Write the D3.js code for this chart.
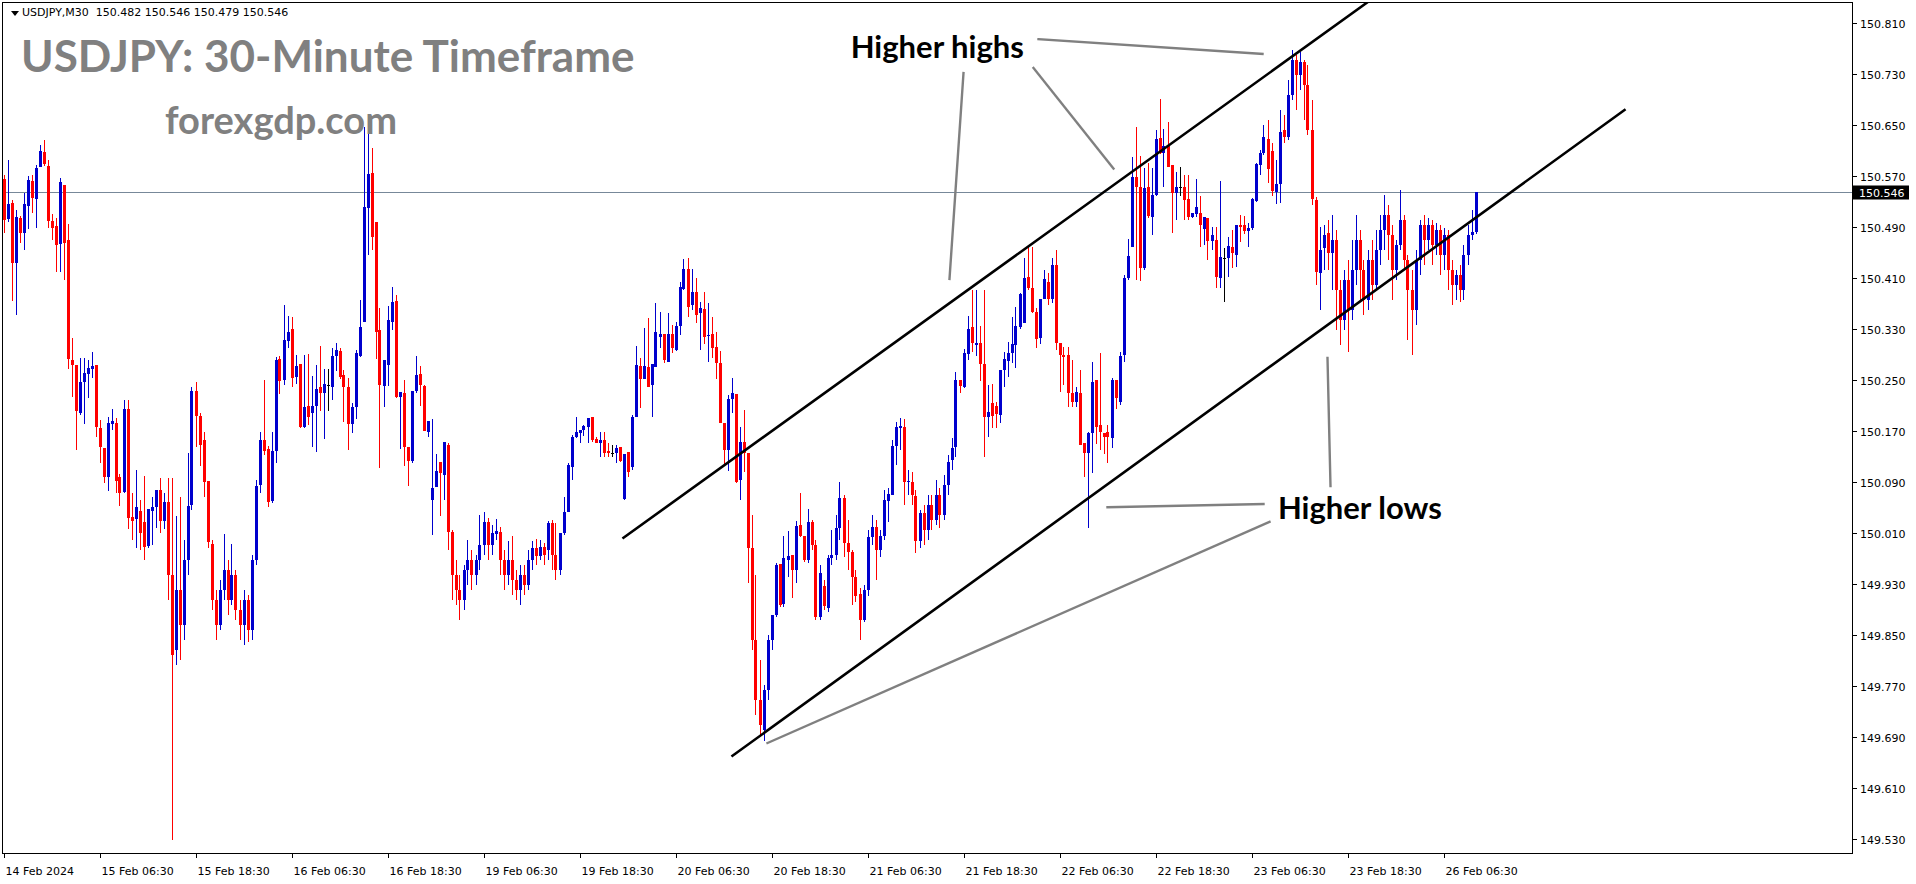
<!DOCTYPE html>
<html><head><meta charset="utf-8">
<script src="https://cdn.jsdelivr.net/npm/d3@7"></script>
<style>html,body{margin:0;padding:0;background:#fff;overflow:hidden}</style>
</head><body><svg id="c" width="1916" height="884"></svg>
<script>
// ---------- DATA ----------
const symbolHeader = "USDJPY,M30  150.482 150.546 150.479 150.546";
const titleText = "USDJPY: 30-Minute Timeframe";
const siteText = "forexgdp.com";
const lastPrice = 150.546;

const openP = [150.566,150.503,150.528,150.434,150.505,150.481,150.523,150.563,150.535,150.585,
150.608,150.586,150.500,150.492,150.464,150.557,150.470,150.282,150.274,150.199,
150.247,150.260,150.268,150.274,150.175,150.144,150.098,150.182,150.183,150.098,
150.075,150.205,150.036,150.033,150.045,150.028,149.990,150.045,150.051,150.078,
150.030,150.059,149.945,149.827,149.921,149.866,149.968,150.054,150.234,150.194,
150.157,150.092,149.993,149.905,149.866,149.921,149.953,149.905,149.945,149.890,
149.866,149.905,149.858,149.968,150.086,150.157,150.142,150.061,150.139,150.284,
150.251,150.312,150.331,150.255,150.276,150.177,150.210,150.199,150.210,150.240,
150.230,150.243,150.240,150.288,150.296,150.258,150.240,150.182,150.208,150.288,
150.342,150.520,150.575,150.498,150.329,150.241,150.274,150.342,150.374,150.224,
150.230,150.145,150.123,150.234,150.260,150.241,150.169,150.062,150.083,150.122,
150.102,150.149,150.012,149.945,149.921,149.905,149.953,149.968,149.945,149.968,
149.992,150.028,149.992,150.009,150.012,149.968,149.945,149.968,149.937,149.921,
149.945,149.929,149.968,149.987,149.974,149.988,149.984,150.026,149.976,149.953,
150.011,150.044,150.114,150.161,150.167,150.172,150.177,150.193,150.158,150.152,
150.156,150.139,150.136,150.136,150.145,150.064,150.138,150.114,150.193,150.273,
150.252,150.271,150.243,150.271,150.318,150.323,150.279,150.323,150.298,150.335,
150.393,150.425,150.368,150.389,150.356,150.362,150.320,150.323,150.302,150.277,
150.183,150.141,150.221,150.229,150.094,150.153,150.136,149.987,149.843,149.749,
149.702,149.764,149.843,149.882,149.962,149.899,149.968,149.976,149.953,150.023,
150.006,149.968,150.028,149.992,149.879,149.927,149.893,149.971,149.976,150.018,
150.065,149.995,149.981,149.941,149.915,149.874,149.921,150.004,150.020,149.984,
150.006,150.061,150.070,150.147,150.175,150.177,150.091,150.091,150.069,149.998,
150.042,150.015,150.055,150.031,150.070,150.039,150.086,150.125,150.145,150.251,
150.240,150.291,150.334,150.305,150.309,150.276,150.193,150.214,150.210,150.196,
150.266,150.280,150.293,150.305,150.334,150.340,150.412,150.395,150.357,150.317,
150.378,150.404,150.378,150.431,150.309,150.290,150.290,150.230,150.216,150.230,
150.152,150.136,150.167,150.251,150.180,150.167,150.169,150.160,150.251,150.216,
150.290,150.411,150.459,150.569,150.553,150.426,150.553,150.506,150.541,150.630,
150.607,150.618,150.588,150.544,150.553,150.553,150.535,150.506,150.511,150.513,
150.488,150.505,150.469,150.470,150.411,150.442,150.442,150.459,150.447,150.494,
150.494,150.484,150.489,150.531,150.588,150.607,150.629,150.610,150.545,150.558,
150.643,150.632,150.698,150.753,150.729,150.749,150.713,150.643,150.533,150.419,
150.458,150.481,150.450,150.470,150.392,150.345,150.407,150.360,150.423,150.470,
150.423,150.376,150.439,150.400,150.455,150.486,150.509,150.478,150.423,150.462,
150.502,150.439,150.392,150.360,150.439,150.494,150.470,150.494,150.462,150.486,
150.447,150.478,150.423,150.400,150.415,150.392,150.447,150.478,150.482];

const highP = [150.572,150.596,150.533,150.517,150.508,150.544,150.571,150.572,150.588,150.619,
150.627,150.596,150.511,150.505,150.567,150.557,150.495,150.317,150.274,150.285,
150.285,150.282,150.295,150.274,150.188,150.144,150.193,150.205,150.191,150.103,
150.219,150.219,150.073,150.109,150.062,150.100,150.048,150.067,150.078,150.097,
150.073,150.097,150.097,150.037,150.067,149.999,150.136,150.240,150.248,150.199,
150.169,150.092,149.999,149.921,149.937,150.009,149.968,149.993,149.953,149.905,
149.921,149.913,149.976,150.094,150.169,150.251,150.147,150.169,150.287,150.288,
150.368,150.351,150.349,150.290,150.276,150.290,150.291,150.257,150.274,150.304,
150.268,150.268,150.301,150.309,150.301,150.266,150.254,150.214,150.298,150.376,
150.647,150.640,150.614,150.498,150.363,150.282,150.367,150.396,150.384,150.232,
150.251,150.145,150.234,150.288,150.272,150.243,150.186,150.189,150.135,150.122,
150.153,150.152,150.015,149.968,149.945,149.960,149.999,149.984,149.976,150.039,
150.044,150.034,150.023,150.033,150.020,149.984,149.998,150.006,149.953,149.960,
149.960,149.984,149.998,150.001,149.999,149.995,150.030,150.031,150.026,150.011,
150.067,150.120,150.164,150.193,150.172,150.180,150.191,150.193,150.161,150.169,
150.169,150.152,150.149,150.149,150.145,150.134,150.138,150.196,150.304,150.285,
150.332,150.348,150.276,150.371,150.357,150.323,150.356,150.337,150.342,150.404,
150.440,150.442,150.425,150.411,150.373,150.389,150.371,150.349,150.326,150.296,
150.183,150.227,150.254,150.229,150.177,150.204,150.136,150.039,149.945,149.811,
149.772,149.851,149.882,149.963,149.962,150.006,150.014,149.976,150.030,150.073,
150.006,150.048,150.031,149.999,149.960,149.937,149.976,150.015,150.039,150.091,
150.070,150.031,149.984,149.953,149.924,149.929,150.015,150.039,150.031,150.015,
150.078,150.081,150.157,150.185,150.191,150.189,150.109,150.106,150.078,150.047,
150.055,150.070,150.070,150.094,150.081,150.102,150.133,150.160,150.263,150.251,
150.299,150.351,150.392,150.392,150.335,150.392,150.243,150.244,150.216,150.266,
150.295,150.310,150.349,150.365,150.387,150.442,150.459,150.459,150.364,150.378,
150.423,150.418,150.442,150.455,150.309,150.302,150.302,150.282,150.240,150.266,
150.152,150.169,150.279,150.251,150.293,150.167,150.180,150.254,150.251,150.295,
150.415,150.472,150.600,150.647,150.602,150.583,150.591,150.583,150.643,150.691,
150.644,150.655,150.588,150.577,150.585,150.572,150.572,150.513,150.566,150.539,
150.505,150.505,150.491,150.491,150.563,150.458,150.475,150.486,150.494,150.509,
150.508,150.497,150.536,150.591,150.611,150.651,150.658,150.622,150.596,150.674,
150.666,150.721,150.768,150.760,150.765,150.753,150.745,150.690,150.538,150.491,
150.494,150.502,150.509,150.486,150.407,150.423,150.439,150.470,150.509,150.486,
150.439,150.455,150.470,150.486,150.509,150.541,150.525,150.494,150.470,150.549,
150.509,150.447,150.423,150.455,150.502,150.509,150.505,150.502,150.497,150.494,
150.489,150.486,150.439,150.423,150.431,150.462,150.494,150.517,150.546];

const lowP = [150.481,150.498,150.374,150.352,150.466,150.455,150.488,150.513,150.489,150.585,
150.586,150.489,150.470,150.420,150.420,150.407,150.268,150.224,150.141,150.196,
150.182,150.222,150.254,150.161,150.120,150.089,150.076,150.172,150.073,150.053,
150.073,150.017,149.999,149.987,149.984,149.968,149.987,149.992,150.019,150.011,
150.017,149.905,149.529,149.803,149.811,149.843,149.945,150.047,150.146,150.116,
150.067,149.987,149.890,149.843,149.858,149.905,149.882,149.898,149.874,149.843,
149.835,149.840,149.843,149.960,150.073,150.133,150.051,150.058,150.120,150.229,
150.243,150.301,150.240,150.244,150.175,150.175,150.180,150.145,150.138,150.202,
150.158,150.202,150.219,150.265,150.252,150.185,150.141,150.167,150.189,150.287,
150.342,150.447,150.455,150.284,150.112,150.208,150.241,150.329,150.222,150.142,
150.116,150.084,150.120,150.230,150.210,150.171,150.161,150.007,150.083,150.037,
150.062,149.984,149.905,149.898,149.874,149.890,149.929,149.921,149.929,149.953,
149.976,149.968,149.976,149.999,149.945,149.921,149.929,149.913,149.905,149.898,
149.913,149.921,149.953,149.960,149.968,149.960,149.968,149.953,149.937,149.945,
150.007,150.044,150.094,150.160,150.152,150.163,150.152,150.153,150.152,150.130,
150.130,150.130,150.130,150.120,150.122,150.062,150.098,150.109,150.193,150.207,
150.252,150.240,150.193,150.271,150.301,150.277,150.279,150.293,150.296,150.321,
150.392,150.349,150.360,150.340,150.298,150.307,150.279,150.285,150.252,150.183,
150.117,150.108,150.199,150.089,150.062,150.106,149.932,149.827,149.725,149.694,
149.684,149.749,149.827,149.879,149.894,149.894,149.941,149.909,149.932,150.004,
149.965,149.963,149.984,149.874,149.874,149.890,149.887,149.960,149.968,149.999,
149.973,149.953,149.898,149.902,149.843,149.871,149.912,149.992,149.937,149.973,
149.999,150.028,150.070,150.117,150.141,150.055,150.070,150.055,149.979,149.987,
149.992,149.999,150.015,150.023,150.019,150.031,150.070,150.109,150.130,150.230,
150.238,150.282,150.295,150.288,150.249,150.130,150.161,150.175,150.175,150.183,
150.240,150.255,150.277,150.269,150.331,150.340,150.392,150.356,150.301,150.307,
150.378,150.368,150.371,150.298,150.232,150.243,150.208,150.208,150.208,150.149,
150.098,150.018,150.105,150.150,150.140,150.135,150.120,150.144,150.205,150.211,
150.279,150.407,150.459,150.407,150.406,150.423,150.505,150.478,150.539,150.605,
150.553,150.585,150.481,150.502,150.539,150.502,150.502,150.505,150.506,150.459,
150.462,150.439,150.455,150.395,150.395,150.373,150.412,150.426,150.428,150.467,
150.480,150.459,150.486,150.530,150.572,150.604,150.560,150.539,150.527,150.528,
150.622,150.627,150.690,150.674,150.706,150.658,150.635,150.525,150.400,150.360,
150.423,150.423,150.392,150.329,150.305,150.329,150.295,150.345,150.400,150.376,
150.352,150.360,150.376,150.392,150.431,150.455,150.439,150.376,150.407,150.455,
150.423,150.313,150.290,150.337,150.415,150.431,150.455,150.431,150.447,150.415,
150.423,150.392,150.368,150.376,150.373,150.376,150.431,150.470,150.479];

const closeP = [150.502,150.527,150.434,150.506,150.481,150.527,150.564,150.536,150.583,150.610,
150.589,150.500,150.489,150.462,150.561,150.466,150.284,150.274,150.202,150.247,
150.261,150.269,150.272,150.177,150.145,150.098,150.183,150.186,150.092,150.073,
150.205,150.034,150.030,150.051,150.011,149.988,150.048,150.051,150.078,150.030,
150.059,149.945,149.819,149.921,149.866,149.968,150.053,150.234,150.194,150.149,
150.091,149.996,149.905,149.866,149.921,149.953,149.905,149.945,149.890,149.866,
149.905,149.858,149.968,150.084,150.157,150.139,150.059,150.139,150.282,150.249,
150.313,150.326,150.254,150.272,150.177,150.208,150.193,150.210,150.237,150.230,
150.244,150.243,150.288,150.298,150.255,150.240,150.182,150.208,150.293,150.334,
150.522,150.574,150.475,150.326,150.243,150.282,150.345,150.373,150.224,150.232,
150.145,150.123,150.234,150.258,150.243,150.171,150.186,150.081,150.108,150.105,
150.153,150.012,149.945,149.921,149.905,149.953,149.968,149.945,149.968,149.992,
150.028,149.992,150.011,150.014,149.968,149.945,149.968,149.937,149.921,149.945,
149.929,149.968,149.987,149.974,149.988,149.976,150.026,149.976,149.953,150.011,
150.044,150.117,150.161,150.169,150.172,150.178,150.191,150.156,150.152,150.156,
150.136,150.136,150.136,150.144,150.123,150.134,150.106,150.193,150.274,150.252,
150.273,150.240,150.276,150.326,150.323,150.282,150.323,150.301,150.335,150.396,
150.425,150.365,150.389,150.352,150.364,150.318,150.321,150.301,150.277,150.183,
150.141,150.221,150.230,150.091,150.153,150.136,149.987,149.843,149.749,149.709,
149.764,149.843,149.882,149.960,149.898,149.971,149.974,149.953,150.022,150.006,
149.968,150.028,149.992,149.879,149.948,149.896,149.971,149.976,150.018,150.065,
149.995,149.981,149.941,149.912,149.874,149.921,150.004,150.020,149.984,150.006,
150.062,150.072,150.147,150.177,150.178,150.091,150.092,150.070,149.998,150.042,
150.015,150.055,150.031,150.070,150.039,150.086,150.122,150.144,150.251,150.241,
150.293,150.331,150.309,150.309,150.276,150.193,150.200,150.194,150.197,150.266,
150.284,150.293,150.307,150.335,150.385,150.411,150.395,150.357,150.315,150.378,
150.409,150.378,150.431,150.309,150.290,150.287,150.230,150.216,150.232,150.149,
150.136,150.167,150.247,150.177,150.169,150.161,150.161,150.251,150.222,150.288,
150.411,150.445,150.569,150.553,150.426,150.552,150.508,150.541,150.629,150.607,
150.618,150.585,150.544,150.553,150.553,150.533,150.506,150.513,150.522,150.494,
150.506,150.469,150.478,150.412,150.444,150.442,150.461,150.450,150.494,150.491,
150.484,150.489,150.535,150.589,150.607,150.632,150.582,150.547,150.558,150.640,
150.632,150.698,150.753,150.729,150.749,150.713,150.643,150.535,150.420,150.455,
150.478,150.450,150.470,150.392,150.345,150.407,150.360,150.423,150.470,150.423,
150.376,150.439,150.400,150.455,150.486,150.509,150.478,150.423,150.462,150.502,
150.439,150.392,150.360,150.439,150.494,150.470,150.494,150.462,150.486,150.447,
150.478,150.423,150.400,150.415,150.392,150.447,150.478,150.482,150.546];

const timeLabels = ["14 Feb 2024","15 Feb 06:30","15 Feb 18:30","16 Feb 06:30","16 Feb 18:30",
"19 Feb 06:30","19 Feb 18:30","20 Feb 06:30","20 Feb 18:30","21 Feb 06:30","21 Feb 18:30",
"22 Feb 06:30","22 Feb 18:30","23 Feb 06:30","23 Feb 18:30","26 Feb 06:30"];
const timeLabelBar = [0,24,48,72,96,120,144,168,192,216,240,264,288,312,336,360];
const priceTicks = [150.810,150.730,150.650,150.570,150.490,150.410,150.330,150.250,150.170,
150.090,150.010,149.930,149.850,149.770,149.690,149.610,149.530];

// trend / annotation lines as [bar index, price]
const upperChannel = [[155, 150.003], [341, 150.843]];
const lowerChannel = [[182.25, 149.661], [405.25, 150.674]];
const highsPointerA = [[240, 150.732], [236.5, 150.409]];
const highsPointerB = [[257.5, 150.740], [277.5, 150.582]];
const highsPointerC = [[258.75, 150.785], [314.75, 150.762]];
const lowsPointerA = [[331, 150.285], [331.75, 150.084]];
const lowsPointerB = [[276, 150.051], [315, 150.056]];
const lowsPointerC = [[191, 149.681], [316.5, 150.028]];
const higherHighsLabel = {text: "Higher highs", bar: 211.8, price: 150.755};
const higherLowsLabel = {text: "Higher lows", bar: 318.6, price: 150.032};

// ---------- CHART ----------
const svg = d3.select("#c");
const P = {l: 2, t: 2, r: 1852, b: 853};

const x = d3.scaleLinear().domain([0, 100]).range([3.5, 403.5]);
const y = d3.scaleLinear().domain([149.530, 150.810]).range([839.3, 23.3]);

svg.append("defs").append("clipPath").attr("id", "pc")
  .append("rect").attr("x", P.l).attr("y", P.t).attr("width", P.r - P.l).attr("height", P.b - P.t);

const g = svg.append("g").attr("clip-path", "url(#pc)");

// current price line
g.append("line").attr("x1", P.l).attr("x2", P.r)
  .attr("y1", Math.round(y(lastPrice)) + 0.5).attr("y2", Math.round(y(lastPrice)) + 0.5)
  .attr("stroke", "#778899").attr("stroke-width", 1);

// candles
const bars = d3.range(openP.length).map(i => ({i, o: openP[i], h: highP[i], l: lowP[i], c: closeP[i]}));
const col = d => Math.abs(d.c - d.o) < 0.0005 ? "#000000" : (d.c > d.o ? "#0000CD" : "#FF0000");
const cg = g.append("g").attr("shape-rendering", "crispEdges");
cg.selectAll("line.w").data(bars).join("line").attr("class", "w")
  .attr("x1", d => Math.round(x(d.i)) + 0.5).attr("x2", d => Math.round(x(d.i)) + 0.5)
  .attr("y1", d => y(d.h)).attr("y2", d => y(d.l))
  .attr("stroke", col).attr("stroke-width", 1);
cg.selectAll("rect.b").data(bars).join("rect").attr("class", "b")
  .attr("x", d => Math.round(x(d.i)) - 1)
  .attr("width", 3)
  .attr("y", d => y(Math.max(d.o, d.c)))
  .attr("height", d => Math.max(1, Math.abs(y(d.o) - y(d.c))))
  .attr("fill", col);

// lines
const ln = (pts, color, w) => g.append("line")
  .attr("x1", x(pts[0][0])).attr("y1", y(pts[0][1]))
  .attr("x2", x(pts[1][0])).attr("y2", y(pts[1][1]))
  .attr("stroke", color).attr("stroke-width", w).attr("stroke-linecap", "square");
ln(upperChannel, "#000", 2.6);
ln(lowerChannel, "#000", 2.6);
[highsPointerA, highsPointerB, highsPointerC, lowsPointerA, lowsPointerB, lowsPointerC]
  .forEach(p => ln(p, "#808080", 2.4));

// annotations
[higherHighsLabel, higherLowsLabel].forEach(a => g.append("text")
  .attr("x", x(a.bar)).attr("y", y(a.price))
  .attr("font-family", "Lato, 'Open Sans', sans-serif").attr("font-weight", "bold")
  .attr("font-size", 31).attr("fill", "#000").text(a.text));

g.append("text").attr("x", 21).attr("y", 72)
  .attr("font-family", "Lato, 'Open Sans', sans-serif").attr("font-weight", "bold")
  .attr("font-size", 44).attr("fill", "#808080").text(titleText);
g.append("text").attr("x", 165).attr("y", 134)
  .attr("font-family", "Lato, 'Open Sans', sans-serif").attr("font-weight", "bold")
  .attr("font-size", 38).attr("fill", "#808080").text(siteText);

// header
svg.append("path").attr("d", "M11,11 L19,11 L15,16 Z").attr("fill", "#000");
svg.append("text").attr("x", 22).attr("y", 16).attr("font-family", "'DejaVu Sans', sans-serif")
  .attr("font-size", 11).attr("fill", "#000").attr("xml:space", "preserve").text(symbolHeader);

// frame
svg.append("rect").attr("x", P.l + 0.5).attr("y", P.t + 0.5)
  .attr("width", P.r - P.l).attr("height", P.b - P.t)
  .attr("fill", "none").attr("stroke", "#000").attr("stroke-width", 1).attr("shape-rendering", "crispEdges");

// y axis
const ya = svg.append("g").attr("shape-rendering", "crispEdges");
priceTicks.forEach(t => {
  const yy = Math.round(y(t)) + 0.5;
  ya.append("line").attr("x1", P.r + 0.5).attr("x2", P.r + 5).attr("y1", yy).attr("y2", yy).attr("stroke", "#000");
  ya.append("text").attr("x", P.r + 8).attr("y", yy + 4).attr("font-family", "'DejaVu Sans', sans-serif")
    .attr("font-size", 11).attr("fill", "#000").attr("shape-rendering", "auto").text(t.toFixed(3));
});
// last price box
const ly = Math.round(y(lastPrice)) + 0.5;
svg.append("rect").attr("x", P.r + 1).attr("y", ly - 7).attr("width", 56).attr("height", 14).attr("fill", "#000");
svg.append("text").attr("x", P.r + 7).attr("y", ly + 4).attr("font-family", "'DejaVu Sans', sans-serif")
  .attr("font-size", 11).attr("fill", "#fff").text(lastPrice.toFixed(3));

// x axis
const xa = svg.append("g");
timeLabelBar.forEach((b, k) => {
  const xx = Math.round(x(b)) + 0.5;
  xa.append("line").attr("x1", xx).attr("x2", xx).attr("y1", P.b + 0.5).attr("y2", P.b + 5)
    .attr("stroke", "#000").attr("shape-rendering", "crispEdges");
  xa.append("text").attr("x", xx + 1).attr("y", 875).attr("font-family", "'DejaVu Sans', sans-serif")
    .attr("font-size", 11).attr("fill", "#000").text(timeLabels[k]);
});
</script></body></html>
